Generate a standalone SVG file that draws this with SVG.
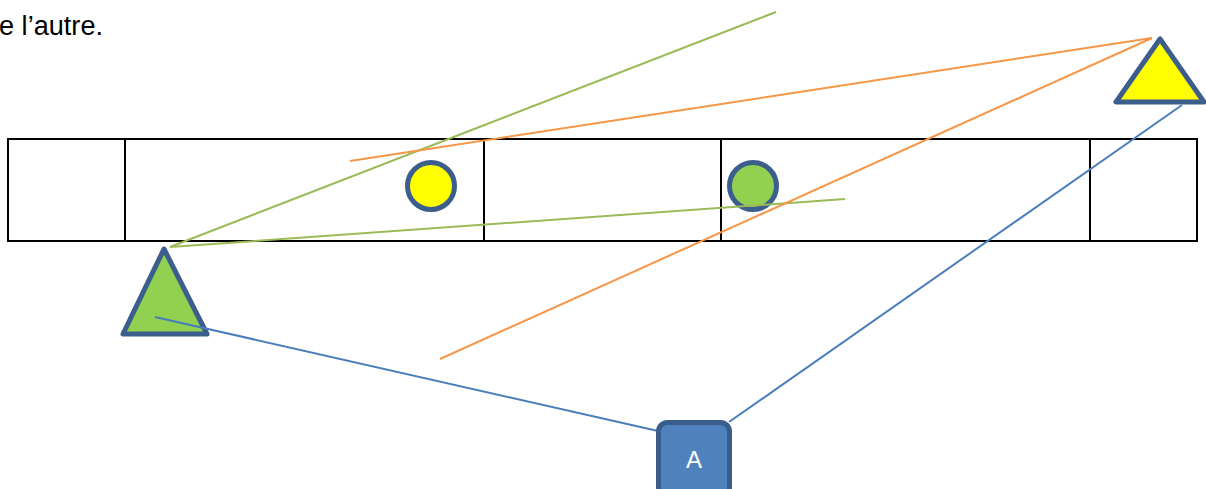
<svg xmlns="http://www.w3.org/2000/svg" width="1206" height="489" viewBox="0 0 1206 489">
<style>
.cell{fill:none;stroke:#000;stroke-width:2}
.node{stroke:#3b5e8c;stroke-width:5;stroke-linejoin:round}
.g{stroke:#9bbb59;stroke-width:2}
.o{stroke:#f79646;stroke-width:2}
.b{stroke:#4a7ebb;stroke-width:2}
.txt{font-family:"Liberation Sans",Arial,sans-serif}
</style>
<rect width="1206" height="489" fill="#fff"/>
<text class="txt" x="-1" y="35" font-size="27" fill="#000" textLength="104" lengthAdjust="spacingAndGlyphs">e l’autre.</text>
<g id="table">
<rect class="cell" x="8" y="139" width="1189" height="102"/>
<line class="cell" x1="125" y1="139" x2="125" y2="241"/>
<line class="cell" x1="484" y1="139" x2="484" y2="241"/>
<line class="cell" x1="721" y1="139" x2="721" y2="241"/>
<line class="cell" x1="1090" y1="139" x2="1090" y2="241"/>
</g>
<g id="circle-yellow"><circle class="node" cx="431" cy="186" r="23.5" fill="#ffff00"/></g>
<g id="circle-green"><circle class="node" cx="753" cy="186" r="23.5" fill="#92d050"/></g>
<g id="triangle-green"><polygon class="node" points="164,249 123,334 207,334" fill="#92d050"/></g>
<g id="triangle-yellow"><polygon class="node" points="1160,39 1116,102 1204,102" fill="#ffff00"/></g>
<g id="connectors">
<line class="g" x1="170" y1="247" x2="776" y2="12"/>
<line class="g" x1="170" y1="247" x2="845" y2="199"/>
<line class="o" x1="1152" y1="38" x2="350" y2="161"/>
<line class="o" x1="1152" y1="38" x2="440" y2="359"/>
<line class="b" x1="155" y1="317" x2="658" y2="431"/>
<line class="b" x1="1182" y1="105" x2="729" y2="422"/>
</g>
<g id="box-A">
<rect x="658.5" y="422.5" width="71" height="74" rx="9" fill="#4f81bd" stroke="#385d8a" stroke-width="5"/>
<text class="txt" x="694" y="468" font-size="24" fill="#fff" text-anchor="middle">A</text>
</g>
</svg>
